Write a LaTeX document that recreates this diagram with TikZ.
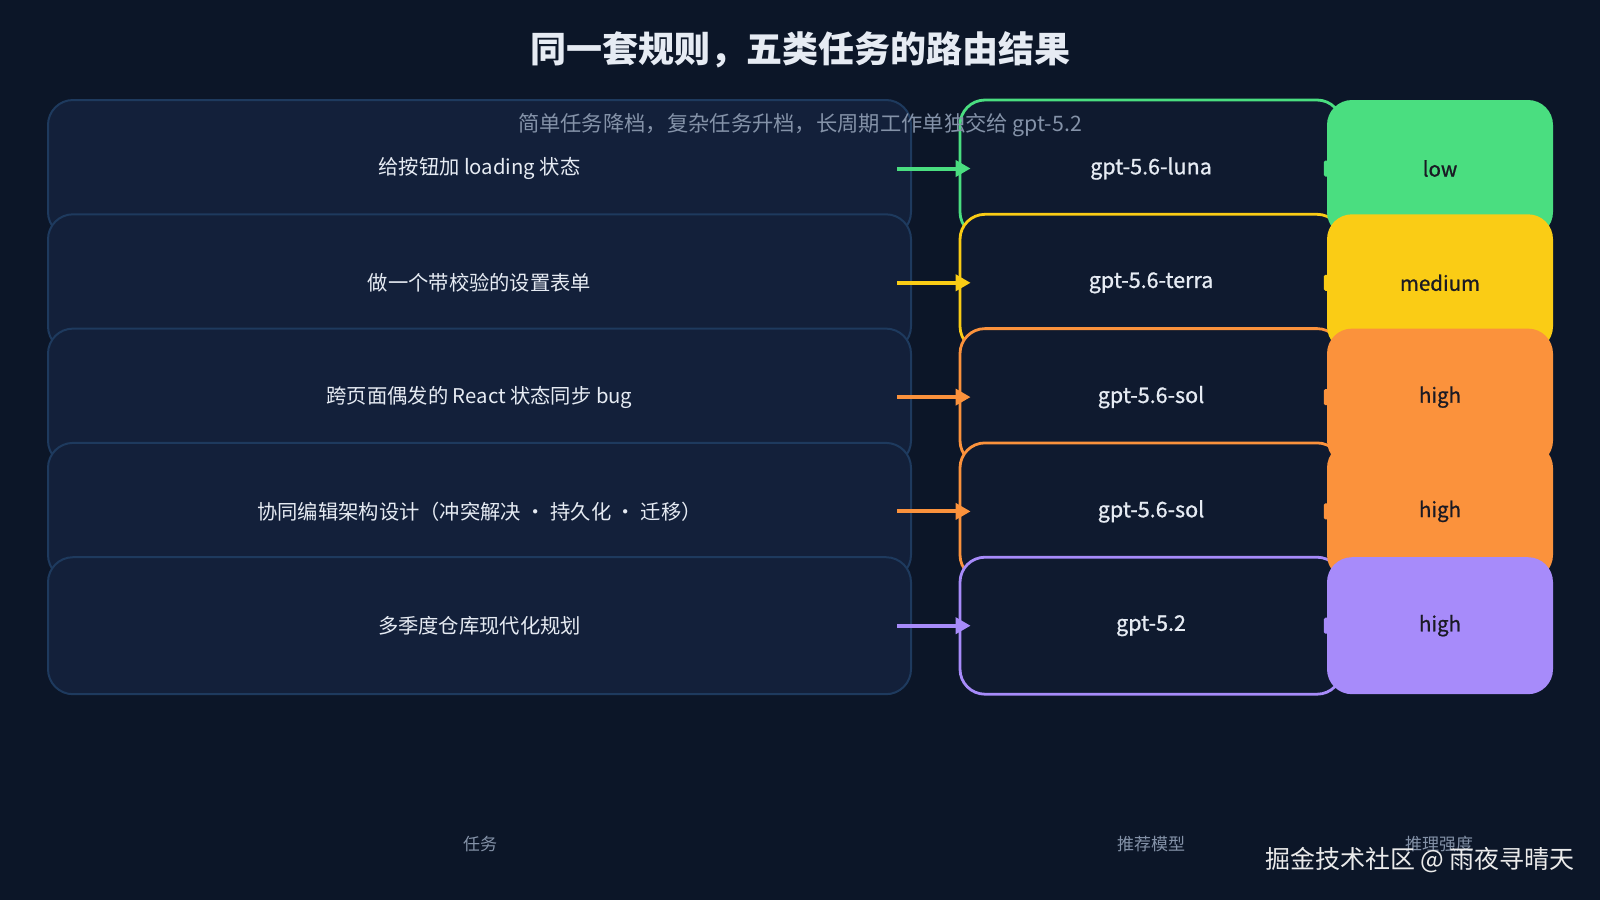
\documentclass[tikz,border=0pt]{standalone}
\usepackage{fontspec}
\setmainfont{Noto Sans CJK SC}
\newfontfamily\medf[FakeBold=1.0]{Noto Sans CJK SC}
\usetikzlibrary{arrows.meta}
\definecolor{bg}{HTML}{0C1628}
\definecolor{taskfill}{HTML}{13203A}
\definecolor{taskline}{HTML}{1E3A5E}
\definecolor{modelfill}{HTML}{0F1A2F}
\definecolor{cgreen}{HTML}{4ADE80}
\definecolor{cyellow}{HTML}{FACC15}
\definecolor{corange}{HTML}{FB923C}
\definecolor{cpurple}{HTML}{A78BFA}
\definecolor{txt}{HTML}{E6EBF3}
\definecolor{subtxt}{HTML}{8492A8}
\definecolor{darktxt}{HTML}{1A1A24}
\tikzset{
  taskbox/.style={draw=taskline, line width=2pt, fill=taskfill, rounded corners=25pt,
    minimum width=863pt, minimum height=137pt, inner sep=0pt, text=txt,
    font=\fontsize{20.3}{24}\selectfont},
  modelbox/.style={draw=#1, line width=2.8pt, fill=modelfill, rounded corners=25pt,
    minimum width=382pt, minimum height=137pt, inner sep=0pt, text=txt},
  effbox/.style={fill=#1, rounded corners=25pt,
    minimum width=226pt, minimum height=137pt, inner sep=0pt, text=darktxt},
  modeltext/.style={font=\medf\fontsize{21.5}{25}\selectfont, text=txt},
  efftext/.style={font=\medf\fontsize{20.5}{24}\selectfont, text=darktxt},
  arr/.style={draw=#1, line width=4pt, -{Triangle[length=15pt,width=16pt,fill=#1]}},
  bump/.style={fill=#1, rounded corners=1.5pt},
  collabel/.style={text=subtxt, font=\fontsize{17}{20}\selectfont},
}
\begin{document}
\begin{tikzpicture}[x=1pt,y=-1pt]
\useasboundingbox (0,0) rectangle (1600,900);
\fill[bg] (0,0) rectangle (1600,900);

% title
\node[text=txt, font=\bfseries\fontsize{36}{40}\selectfont] (title) at (800,50) {同一套规则，五类任务的路由结果};

% task boxes
\node[taskbox] (t1) at (479.5,168.5) {给按钮加 loading 状态};
\node[taskbox] (t2) at (479.5,282.8) {做一个带校验的设置表单};
\node[taskbox] (t3) at (479.5,397.1) {跨页面偶发的 React 状态同步 bug};
\node[taskbox] (t4) at (479.5,511.4) {协同编辑架构设计（冲突解决 · 持久化 · 迁移）};
\node[taskbox] (t5) at (479.5,625.7) {多季度仓库现代化规划};

% model boxes
\node[modelbox=cgreen] (m1) at (1151,168.5) {};
\node[modelbox=cyellow] (m2) at (1151,282.8) {};
\node[modelbox=corange] (m3) at (1151,397.1) {};
\node[modelbox=corange] (m4) at (1151,511.4) {};
\node[modelbox=cpurple] (m5) at (1151,625.7) {};

% model labels
\node[modeltext] (ml1) at (m1) {gpt-5.6-luna};
\node[modeltext] (ml2) at (m2) {gpt-5.6-terra};
\node[modeltext] (ml3) at (m3) {gpt-5.6-sol};
\node[modeltext] (ml4) at (m4) {gpt-5.6-sol};
\node[modeltext] (ml5) at (m5) {gpt-5.2};

% effort boxes
\node[effbox=cgreen] (e1) at (1440,168.5) {};
\node[effbox=cyellow] (e2) at (1440,282.8) {};
\node[effbox=corange] (e3) at (1440,397.1) {};
\node[effbox=corange] (e4) at (1440,511.4) {};
\node[effbox=cpurple] (e5) at (1440,625.7) {};
\node[efftext] (el1) at (e1) {low};
\node[efftext] (el2) at (e2) {medium};
\node[efftext] (el3) at (e3) {high};
\node[efftext] (el4) at (e4) {high};
\node[efftext] (el5) at (e5) {high};

% small connector stubs between model and effort
\foreach \i/\c in {1/cgreen,2/cyellow,3/corange,4/corange,5/cpurple}{
  \fill[bump=\c] ([xshift=-3pt,yshift=-8pt]e\i.west) rectangle ([xshift=3pt,yshift=8pt]e\i.west);
}

% arrows task -> model
\draw[arr=cgreen] ([xshift=-15pt]t1.east) -- ([xshift=12pt]m1.west);
\draw[arr=cyellow] ([xshift=-15pt]t2.east) -- ([xshift=12pt]m2.west);
\draw[arr=corange] ([xshift=-15pt]t3.east) -- ([xshift=12pt]m3.west);
\draw[arr=corange] ([xshift=-15pt]t4.east) -- ([xshift=12pt]m4.west);
\draw[arr=cpurple] ([xshift=-15pt]t5.east) -- ([xshift=12pt]m5.west);

% subtitle
\node[text=subtxt, font=\fontsize{21.3}{25}\selectfont] (sub) at (800,125) {简单任务降档，复杂任务升档，长周期工作单独交给 gpt-5.2};

% column labels
\node[collabel] (c1) at (480,844) {任务};
\node[collabel] (c2) at (1151,844) {推荐模型};
\node[collabel] (c3) at (1439,844) {推理强度};

% watermark
\node[text=white!92!black, font=\fontsize{25}{28}\selectfont] (wm) at (1420,860) {掘金技术社区 @ 雨夜寻晴天};
\end{tikzpicture}
\end{document}
